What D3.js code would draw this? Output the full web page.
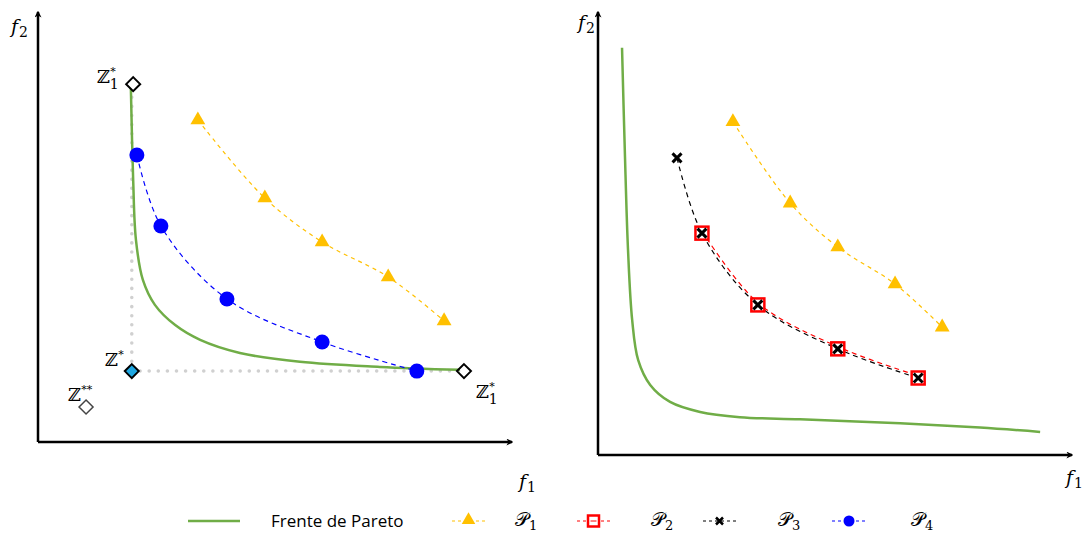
<!DOCTYPE html>
<html>
<head>
<meta charset="utf-8">
<script src="https://cdn.jsdelivr.net/npm/d3@7"></script>
<style>
  body { margin: 0; background: #fff; }
  svg { display: block; }
  .math { font-family: "DejaVu Serif", "Liberation Serif", serif; }
  .legend-text { font-family: "Open Sans", "Liberation Sans", sans-serif; font-size: 17px; }
</style>
</head>
<body>
<div id="chart"></div>
<script>
// ---- data (arbitrary objective units, 0..10 on both axes) ----
// left panel
const leftFrontX = [2.01, 2.06, 2.12, 2.27, 2.53, 2.97, 3.51, 4.37, 5.67, 7.40, 9.13];
const leftFrontY = [8.39, 6.21, 4.79, 3.84, 3.25, 2.77, 2.42, 2.11, 1.90, 1.78, 1.71];
const leftP1X = [3.46, 4.91, 6.15, 7.58, 8.79];
const leftP1Y = [7.63, 5.78, 4.74, 3.91, 2.87];
const leftP4X = [2.14, 2.66, 4.09, 6.15, 8.20];
const leftP4Y = [6.80, 5.12, 3.39, 2.37, 1.68];
const refNames = ["z1top", "zstar", "zstarstar", "z2"];
const refX = [2.06, 2.03, 1.04, 9.22];
const refY = [8.48, 1.68, 0.83, 1.68];

// right panel
const rightFrontX = [0.52, 0.58, 0.65, 0.74, 0.87, 1.13, 1.56, 2.21, 3.07, 4.37, 6.54, 8.27, 9.57];
const rightFrontY = [9.36, 7.01, 4.71, 3.10, 2.18, 1.61, 1.22, 0.99, 0.87, 0.82, 0.73, 0.63, 0.53];
const rightP1X = [2.92, 4.16, 5.19, 6.43, 7.45];
const rightP1Y = [7.66, 5.79, 4.78, 3.93, 2.94];
const rightP3X = [1.71, 2.25, 3.46, 5.19, 6.93];
const rightP3Y = [6.83, 5.10, 3.45, 2.44, 1.77];
const rightP2X = [2.25, 3.46, 5.19, 6.93];
const rightP2Y = [5.10, 3.45, 2.44, 1.77];

const legendLabels = ["Frente de Pareto", "\u{1D4AB}", "\u{1D4AB}", "\u{1D4AB}", "\u{1D4AB}"];
const legendSubs = ["", "1", "2", "3", "4"];

// ---- styling ----
const W = 1084, H = 534;
const green = "#70ad47", yellow = "#ffc000", red = "#ff0000", blue = "#0000ff", cyan = "#1fa7e1";

const svg = d3.select("#chart").append("svg").attr("width", W).attr("height", H);

const defs = svg.append("defs");
defs.append("marker")
  .attr("id", "arrow")
  .attr("viewBox", "0 0 10 10")
  .attr("refX", 8).attr("refY", 5)
  .attr("markerWidth", 7).attr("markerHeight", 7)
  .attr("markerUnits", "userSpaceOnUse")
  .attr("orient", "auto")
  .append("path").attr("d", "M0,0 L10,5 L0,10 L3,5 Z").attr("fill", "#000");

const zip = (xs, ys) => xs.map((x, i) => [x, ys[i]]);

function drawAxes(g, x0, y0, x1, y1) {
  g.append("line").attr("x1", x0).attr("y1", y0).attr("x2", x0).attr("y2", y1)
    .attr("stroke", "#000").attr("stroke-width", 2.5).attr("marker-end", "url(#arrow)");
  g.append("line").attr("x1", x0).attr("y1", y0).attr("x2", x1).attr("y2", y0)
    .attr("stroke", "#000").attr("stroke-width", 2.5).attr("marker-end", "url(#arrow)");
}

function axisLabel(g, x, y, sub) {
  const t = g.append("text").attr("class", "math").attr("x", x).attr("y", y)
    .attr("font-size", 19).attr("font-style", "italic").text("f");
  t.append("tspan").attr("font-size", 14).attr("font-style", "normal").attr("dx", 1).attr("dy", 4).text(sub);
}

function seriesLine(g, pts, sx, sy, color, width, dash) {
  const line = d3.line().x(d => sx(d[0])).y(d => sy(d[1])).curve(d3.curveCatmullRom.alpha(0.5));
  g.append("path").datum(pts).attr("d", line).attr("fill", "none")
    .attr("stroke", color).attr("stroke-width", width).attr("stroke-dasharray", dash);
}

function triangle(g, x, y, color, s) {
  g.append("path").attr("d", d3.symbol(d3.symbolTriangle, s)()).attr("transform", `translate(${x},${y})`).attr("fill", color);
}

function cross(g, x, y, r, w) {
  g.append("path").attr("d", `M${x - r},${y - r}L${x + r},${y + r}M${x - r},${y + r}L${x + r},${y - r}`)
    .attr("stroke", "#000").attr("stroke-width", w).attr("fill", "none");
}

function diamond(g, x, y, fill, stroke, w) {
  const r = 7;
  g.append("path").attr("d", `M${x},${y - r}L${x + r},${y}L${x},${y + r}L${x - r},${y}Z`)
    .attr("fill", fill).attr("stroke", stroke).attr("stroke-width", w);
}

function zLabel(g, x, y, sup, sub) {
  const t = g.append("text").attr("class", "math").attr("x", x).attr("y", y).attr("font-size", 18).text("\u2124");
  t.append("tspan").attr("font-size", 11).attr("dy", -8).text(sup);
  if (sub) {
    t.append("tspan").attr("font-size", 14).attr("dx", -6).attr("dy", 14).text(sub);
  }
}

// ---- left panel ----
const lx = d3.scaleLinear().domain([0, 10]).range([38, 500]);
const ly = d3.scaleLinear().domain([0, 10]).range([442, 20]);
const left = svg.append("g");

// dotted guides from ideal point
const zs = [lx(refX[1]), ly(refY[1])];
left.append("path")
  .attr("d", `M${zs[0]},${ly(refY[0]) + 4}L${zs[0]},${zs[1]}L${lx(refX[3])},${zs[1]}`)
  .attr("fill", "none").attr("stroke", "#d0d0d0").attr("stroke-width", 3.5)
  .attr("stroke-linecap", "round").attr("stroke-dasharray", "0.1 9");

drawAxes(left, 38, 442, 512, 12);
axisLabel(left, 11, 33, "2");
axisLabel(left, 519, 488, "1");

seriesLine(left, zip(leftFrontX, leftFrontY), lx, ly, green, 2.5, null);
seriesLine(left, zip(leftP1X, leftP1Y), lx, ly, yellow, 1.2, "4 4");
seriesLine(left, zip(leftP4X, leftP4Y), lx, ly, blue, 1.2, "5 4");

leftP1X.forEach((x, i) => triangle(left, lx(x), ly(leftP1Y[i]), yellow, 95));
leftP4X.forEach((x, i) => left.append("circle").attr("cx", lx(x)).attr("cy", ly(leftP4Y[i])).attr("r", 7.5).attr("fill", blue));

diamond(left, lx(refX[0]), ly(refY[0]), "#fff", "#000", 2);
diamond(left, lx(refX[1]), ly(refY[1]), cyan, "#000", 2);
diamond(left, lx(refX[2]), ly(refY[2]), "#fff", "#444", 1.5);
diamond(left, lx(refX[3]), ly(refY[3]), "none", "#000", 2);

zLabel(left, 97, 83, "*", "1");
zLabel(left, 105, 366, "*", "");
zLabel(left, 68, 401, "**", "");
zLabel(left, 476, 398, "*", "1");

// ---- right panel ----
const rx = d3.scaleLinear().domain([0, 10]).range([598, 1060]);
const ry = d3.scaleLinear().domain([0, 10]).range([455, 20]);
const right = svg.append("g");

drawAxes(right, 598, 455, 1072, 12);
axisLabel(right, 578, 29, "2");
axisLabel(right, 1066, 484, "1");

seriesLine(right, zip(rightFrontX, rightFrontY), rx, ry, green, 2.5, null);
seriesLine(right, zip(rightP1X, rightP1Y), rx, ry, yellow, 1.2, "4 4");
seriesLine(right, zip(rightP2X, rightP2Y).map(d => [d[0], d[1] + 0.05]), rx, ry, red, 1.2, "5 4");
seriesLine(right, zip(rightP3X, rightP3Y), rx, ry, "#000", 1.2, "5 4");

rightP1X.forEach((x, i) => triangle(right, rx(x), ry(rightP1Y[i]), yellow, 95));
rightP2X.forEach((x, i) => right.append("rect")
  .attr("x", rx(x) - 6.5).attr("y", ry(rightP2Y[i]) - 6.5).attr("width", 13).attr("height", 13)
  .attr("fill", "#fff").attr("stroke", red).attr("stroke-width", 2.5));
rightP3X.forEach((x, i) => cross(right, rx(x), ry(rightP3Y[i]), 4.5, 3));

// ---- legend ----
const lg = svg.append("g");
const ly0 = 521;
lg.append("line").attr("x1", 188).attr("x2", 240).attr("y1", ly0).attr("y2", ly0).attr("stroke", green).attr("stroke-width", 2.5);
lg.append("text").attr("class", "legend-text").attr("x", 271).attr("y", ly0 + 6).text(legendLabels[0]);

const legendItems = [
  { x0: 452, x1: 485, color: yellow, label: 515 },
  { x0: 577, x1: 610, color: red, label: 651 },
  { x0: 703, x1: 736, color: "#000", label: 778 },
  { x0: 832, x1: 866, color: blue, label: 911 }
];
legendItems.forEach((it, i) => {
  lg.append("line").attr("x1", it.x0).attr("x2", it.x1).attr("y1", ly0).attr("y2", ly0)
    .attr("stroke", it.color).attr("stroke-width", 1).attr("stroke-dasharray", "3 3");
  const cx = (it.x0 + it.x1) / 2;
  if (i === 0) triangle(lg, cx, ly0 - 1, yellow, 80);
  if (i === 1) {
    lg.append("rect").attr("x", cx - 5.5).attr("y", ly0 - 5.5).attr("width", 11).attr("height", 11)
      .attr("fill", "#fff").attr("stroke", red).attr("stroke-width", 2.5);
    lg.append("line").attr("x1", cx - 3).attr("x2", cx + 3).attr("y1", ly0).attr("y2", ly0)
      .attr("stroke", red).attr("stroke-width", 1);
  }
  if (i === 2) cross(lg, cx, ly0, 3.5, 2.5);
  if (i === 3) lg.append("circle").attr("cx", cx).attr("cy", ly0).attr("r", 5.5).attr("fill", blue);
  const t = lg.append("text").attr("class", "math").attr("x", it.label).attr("y", ly0 + 5)
    .attr("font-size", 19).text(legendLabels[i + 1]);
  t.append("tspan").attr("font-size", 13).attr("dy", 4).text(legendSubs[i + 1]);
});
</script>
</body>
</html>
